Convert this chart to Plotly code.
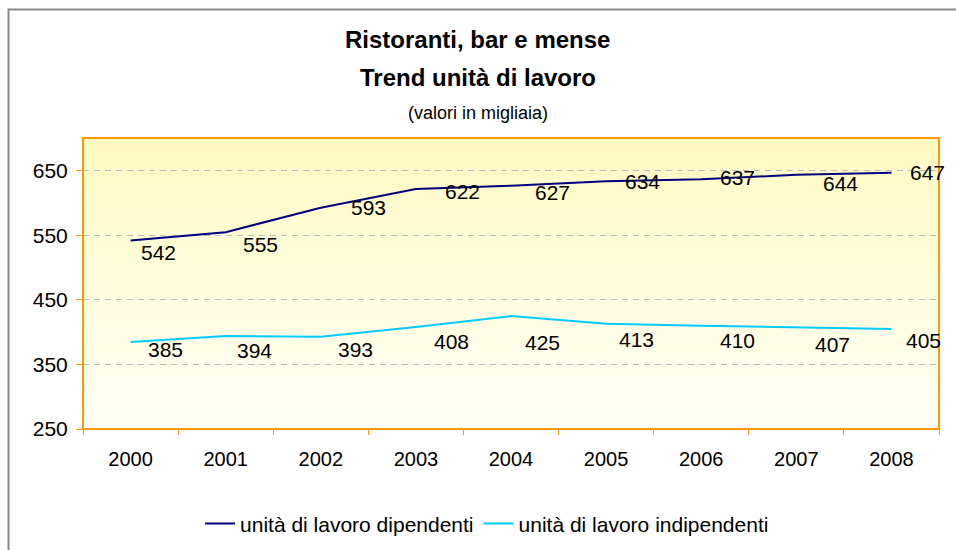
import plotly.graph_objects as go
import base64

years = ["2000", "2001", "2002", "2003", "2004", "2005", "2006", "2007", "2008"]
dipendenti = [542, 555, 593, 622, 627, 634, 637, 644, 647]
indipendenti = [385, 394, 393, 408, 425, 413, 410, 407, 405]
y_ticks = [250, 350, 450, 550, 650]

name_dip = "unità di lavoro dipendenti"
name_ind = "unità di lavoro indipendenti"

# label offsets (pixels) relative to each point
dip_dx = [28, 35, 48, 47, 41, 36, 36, 44, 36]
dip_dy = [12, 12, 0, 3, 7, 0, -2, 9, 0]
ind_dx = [35, 29, 35, 36, 31, 30, 36, 36, 32]
ind_dy = [8, 14, 13, 14, 26, 16, 15, 17, 12]

FONT = "Liberation Sans, Arial, sans-serif"
C_DIP = "#000080"
C_IND = "#00CCFF"
ORANGE = "#FF9900"

fig = go.Figure()
fig.add_trace(go.Scatter(x=years, y=dipendenti, mode="lines", name=name_dip,
                         line=dict(color=C_DIP, width=2)))
fig.add_trace(go.Scatter(x=years, y=indipendenti, mode="lines", name=name_ind,
                         line=dict(color=C_IND, width=2)))

annotations = []
for ys, dxs, dys in [(dipendenti, dip_dx, dip_dy), (indipendenti, ind_dx, ind_dy)]:
    for i, (y, dx, dy) in enumerate(zip(ys, dxs, dys)):
        annotations.append(dict(x=i, y=y, xref="x", yref="y", text=str(y), showarrow=False,
                                xshift=dx, yshift=-dy, font=dict(family=FONT, size=21, color="#000000")))

annotations += [
    dict(text="<b>Ristoranti, bar e mense</b>", x=0.4614, y=1.3368, xref="paper", yref="paper",
         showarrow=False, xanchor="center", yanchor="middle", font=dict(family=FONT, size=24, color="#000")),
    dict(text="<b>Trend unità di lavoro</b>", x=0.4614, y=1.2062, xref="paper", yref="paper",
         showarrow=False, xanchor="center", yanchor="middle", font=dict(family=FONT, size=24, color="#000")),
    dict(text="(valori in migliaia)", x=0.4614, y=1.0859, xref="paper", yref="paper",
         showarrow=False, xanchor="center", yanchor="middle", font=dict(family=FONT, size=18, color="#000")),
]

svg = ('<svg xmlns="http://www.w3.org/2000/svg" width="100" height="100" preserveAspectRatio="none">'
       '<defs><linearGradient id="g" x1="0" y1="0" x2="0" y2="1">'
       '<stop offset="0" stop-color="#FFFAC2"/><stop offset="1" stop-color="#FFFFF6"/>'
       '</linearGradient></defs><rect width="100" height="100" fill="url(#g)"/></svg>')
src = "data:image/svg+xml;base64," + base64.b64encode(svg.encode()).decode()

fig.update_layout(
    width=956, height=550,
    margin=dict(l=83, r=17, t=138, b=121, autoexpand=False),
    paper_bgcolor="white", plot_bgcolor="rgba(0,0,0,0)",
    font=dict(family=FONT, size=20, color="#000"),
    showlegend=True,
    legend=dict(orientation="h", x=0.472, xanchor="center", y=-0.326, yanchor="middle",
                font=dict(family=FONT, size=21, color="#000"), bgcolor="rgba(0,0,0,0)",
                itemwidth=30, tracegroupgap=0),
    annotations=annotations,
    images=[dict(source=src, xref="paper", yref="paper", x=0, y=1, sizex=1, sizey=1,
                 sizing="stretch", layer="below", xanchor="left", yanchor="top")],
    shapes=[
        dict(type="rect", xref="paper", yref="paper", x0=-0.087, x1=1.04, y0=-0.45, y1=1.4416,
             line=dict(color="#888888", width=2), fillcolor="rgba(0,0,0,0)", layer="below"),
        dict(type="rect", xref="paper", yref="paper", x0=0, x1=1, y0=0, y1=1,
             line=dict(color=ORANGE, width=2), fillcolor="rgba(0,0,0,0)", layer="above"),
    ],
)

fig.update_xaxes(type="category", range=[-0.5, 8.5], tickson="boundaries", ticks="outside",
                 ticklen=5, tickcolor=ORANGE, tickwidth=1, showgrid=False, showline=False,
                 zeroline=False, tickfont=dict(family=FONT, size=20), ticklabelstandoff=16,
                 automargin=False)
fig.update_yaxes(range=[250, 701], tickvals=y_ticks, ticks="outside", ticklen=6, tickcolor=ORANGE,
                 tickwidth=1, showgrid=True, gridcolor="#BBBBBB", griddash="6px,5px", gridwidth=1,
                 showline=False, zeroline=False, tickfont=dict(family=FONT, size=21), ticklabelstandoff=4,
                 automargin=False)

fig.write_html("out.html", config={"displayModeBar": False},
               post_script="document.body.style.margin='0';document.body.style.overflow='hidden';")
